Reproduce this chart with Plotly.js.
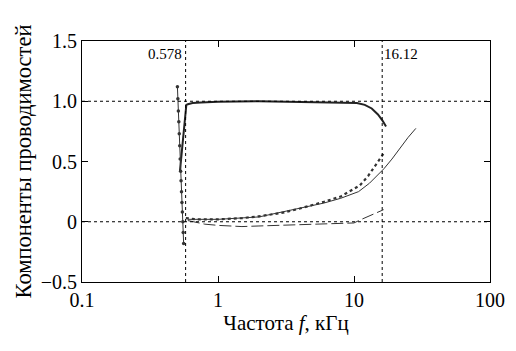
<!DOCTYPE html>
<html><head><meta charset="utf-8">
<script src="https://cdn.plot.ly/plotly-3.0.1.min.js"></script>
<style>body{margin:0;background:#fff}#c{width:516px;height:351px}</style>
</head><body><div id="c"></div>
<script>
// Thick solid curve
const thickF = [0.525, 0.545, 0.565, 0.585, 0.6, 0.65, 0.75, 1, 2, 4, 7, 9, 10.5, 12, 13.5, 15, 16.2, 17.2];
const thickV = [0.42, 0.60, 0.80, 0.97, 0.975, 0.985, 0.99, 0.995, 1.0, 0.995, 0.99, 0.99, 0.985, 0.97, 0.94, 0.89, 0.84, 0.79];
// Dotted curve with markers (left, near-vertical)
const markF = [0.503, 0.507, 0.511, 0.515, 0.519, 0.523, 0.527, 0.531, 0.535, 0.539, 0.543, 0.547, 0.551, 0.555, 0.559];
const markV = [1.12, 1.02, 0.92, 0.83, 0.73, 0.63, 0.52, 0.42, 0.34, 0.25, 0.16, 0.08, 0.0, -0.09, -0.18];
// Dotted curve (lower, rising)
const dotF = [0.58, 0.7, 1, 1.5, 2, 3, 4, 5, 6, 8, 10, 11, 12.7, 14.5, 16.6];
const dotV = [0.03, 0.02, 0.02, 0.03, 0.045, 0.075, 0.11, 0.14, 0.165, 0.21, 0.27, 0.30, 0.38, 0.47, 0.57];
// Thin solid curve
const thinF = [0.6, 1, 2, 4, 6, 8, 10.8, 13, 16.6, 19, 22, 25, 28.5];
const thinV = [0.02, 0.02, 0.04, 0.11, 0.155, 0.195, 0.25, 0.32, 0.44, 0.52, 0.62, 0.70, 0.775];
// Dashed curve
const dashF = [0.6, 0.8, 1, 1.5, 2, 3, 5, 7, 10, 11.1, 12.5, 14.5, 16.5];
const dashV = [0.01, -0.02, -0.03, -0.04, -0.035, -0.03, -0.02, -0.02, -0.01, 0.015, 0.04, 0.07, 0.10];

const yTickVals = [1.5, 1.0, 0.5, 0, -0.5];
const yTickText = ['1.5', '1.0', '0.5', '0', '\u22120.5'];
const xTickVals = [0.1, 1, 10, 100];
const xTickText = ['0.1', '1', '10', '100'];
const hRefs = [1, 0];
const vRefs = [0.578, 16.12];
const vRefLabels = ['0.578', '16.12'];

const font = 'Times New Roman';
const traces = [
  {x: thickF, y: thickV, mode: 'lines', line: {color: '#222', width: 2}},
  {x: markF, y: markV, mode: 'lines+markers', line: {color: '#333', width: 1}, marker: {symbol: 'circle', size: 3.5, color: '#333'}},
  {x: dotF, y: dotV, mode: 'lines', line: {color: '#333', width: 2.2, dash: 'dot'}},
  {x: thinF, y: thinV, mode: 'lines', line: {color: '#333', width: 1}},
  {x: dashF, y: dashV, mode: 'lines', line: {color: '#333', width: 1, dash: '12px,4px'}}
];
const shapes = [];
hRefs.forEach(v => shapes.push({type: 'line', xref: 'paper', x0: 0, x1: 1, yref: 'y', y0: v, y1: v, line: {color: '#000', width: 1, dash: 'dot'}}));
vRefs.forEach(v => shapes.push({type: 'line', yref: 'paper', y0: 0, y1: 1, xref: 'x', x0: v, x1: v, line: {color: '#000', width: 1, dash: 'dot'}}));
const annotations = [
  {x: Math.log10(vRefs[0]), y: 1, xref: 'x', yref: 'paper', text: vRefLabels[0], showarrow: false, xanchor: 'right', yanchor: 'top', xshift: -2, yshift: -3, font: {family: font, size: 15, color: '#000'}},
  {x: Math.log10(vRefs[1]), y: 1, xref: 'x', yref: 'paper', text: vRefLabels[1], showarrow: false, xanchor: 'left', yanchor: 'top', xshift: 0, yshift: -3, font: {family: font, size: 15, color: '#000'}}
];
const layout = {
  width: 516, height: 351,
  margin: {l: 82, r: 26, t: 41, b: 69},
  paper_bgcolor: '#fff', plot_bgcolor: '#fff',
  showlegend: false,
  font: {family: font, color: '#000', size: 18},
  xaxis: {type: 'log', range: [-1, 2], tickvals: xTickVals, ticktext: xTickText, ticks: 'inside', ticklen: 6, tickcolor: '#000',
    showline: true, linecolor: '#000', linewidth: 1, mirror: 'ticks', showgrid: false, zeroline: false,
    tickfont: {family: font, size: 20, color: '#000'}, title: {text: 'Частота <i>f</i>, кГц', font: {family: font, size: 21, color: '#000'}, standoff: 2}},
  yaxis: {range: [-0.5, 1.5], tickvals: yTickVals, ticktext: yTickText, ticks: 'inside', ticklen: 6, tickcolor: '#000',
    showline: true, linecolor: '#000', linewidth: 1, mirror: 'ticks', showgrid: false, zeroline: false,
    tickfont: {family: font, size: 20, color: '#000'}, title: {text: 'Компоненты проводимостей', font: {family: font, size: 22.5, color: '#000'}, standoff: 2}},
  shapes: shapes, annotations: annotations
};
Plotly.newPlot('c', traces, layout, {staticPlot: true, displayModeBar: false});
</script></body></html>
